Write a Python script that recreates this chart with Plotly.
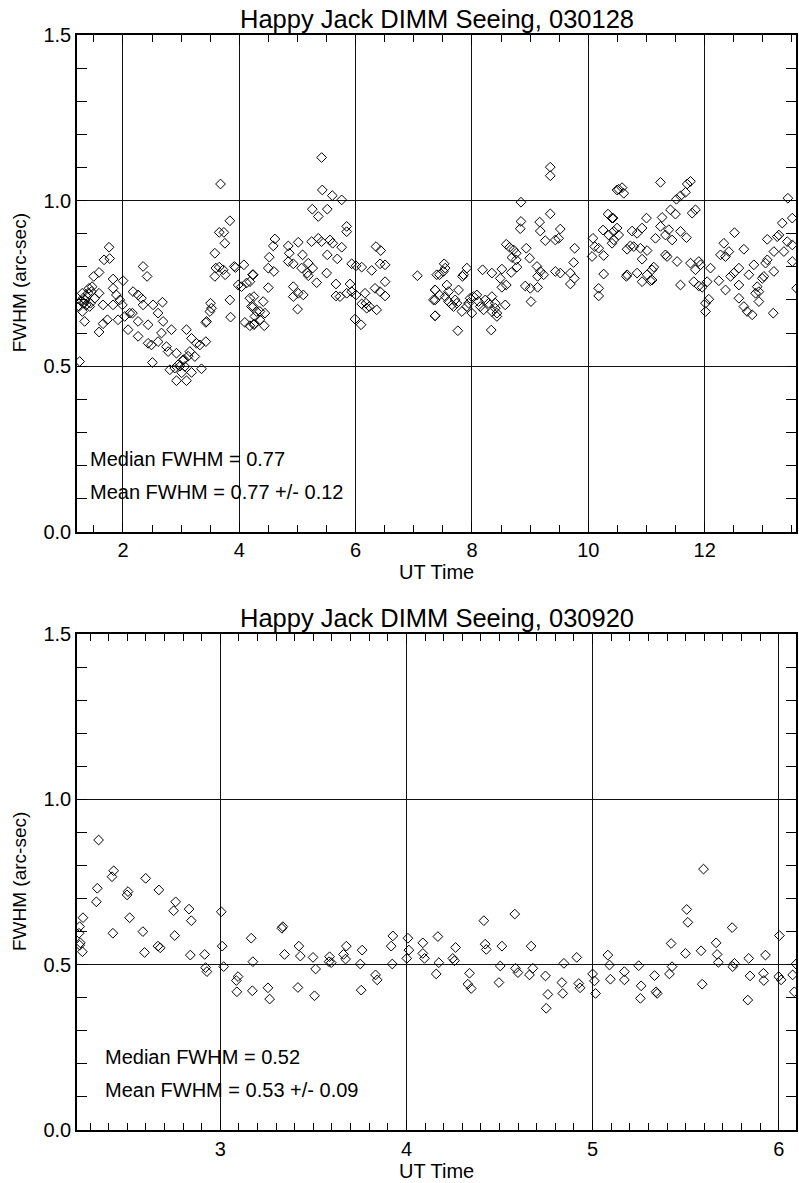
import plotly.graph_objects as go

# ---------------- data ----------------
ut_030128 = [
    1.256,1.285,1.245,1.314,1.342,1.302,1.371,1.400,1.417,1.457,
    1.428,1.497,1.515,1.589,1.589,1.589,1.658,1.675,1.658,1.732,
    1.761,1.772,1.830,1.830,1.830,1.887,1.916,1.945,1.990,2.002,
    2.030,2.088,2.117,2.174,2.163,2.260,2.318,2.260,2.260,2.346,
    2.415,2.346,2.432,2.432,2.490,2.518,2.507,2.604,2.604,2.662,
    2.679,2.690,2.748,2.777,2.834,2.806,2.891,2.920,2.920,2.949,
    3.035,3.064,3.092,3.092,3.150,3.179,3.179,3.236,3.265,3.322,
    3.350,3.425,3.425,3.437,3.494,3.522,3.505,3.580,3.597,3.580,
    3.655,3.655,3.677,3.735,3.752,3.723,3.758,3.838,3.838,3.850,
    3.913,3.936,3.981,4.039,4.079,4.125,4.182,4.228,4.096,4.182,
    4.257,4.240,4.297,
    1.350,1.380,1.440,1.470,1.330,1.300,2.980,3.010,3.050,3.120,
    5.415,5.427,5.599,5.760,5.255,5.358,5.513,5.846,5.846,4.612,
    4.584,4.842,5.014,4.859,4.515,4.240,4.182,4.498,4.595,4.842,
    4.928,5.088,5.243,5.358,5.415,5.559,5.605,5.760,5.513,5.685,
    5.186,5.071,5.261,5.169,5.186,5.502,5.330,4.928,5.014,5.100,
    4.928,4.498,4.251,4.411,4.210,4.354,4.268,4.440,4.354,4.251,
    4.429,5.002,5.662,5.662,5.731,5.846,5.903,5.932,6.006,6.104,
    5.932,6.006,5.989,6.093,6.104,6.161,6.190,6.236,6.178,6.276,
    6.333,6.362,6.350,6.431,6.420,6.506,6.506,6.420,6.506,7.062,
    7.395,7.366,7.338,7.366,
    9.346,9.346,8.842,9.346,9.163,8.842,8.830,9.174,9.518,9.260,
    9.433,9.490,9.765,8.589,8.646,8.715,8.761,8.933,8.991,8.687,
    8.761,8.773,8.675,8.514,8.342,8.182,8.486,8.514,8.589,8.572,
    8.400,8.428,8.342,8.331,9.117,9.174,9.232,9.128,9.433,9.518,
    9.748,9.691,9.760,9.691,8.916,9.002,9.128,9.014,10.080,10.110,
    10.178,10.064,10.253,10.350,10.264,10.264,10.178,10.178,10.339,10.408,
    10.494,7.522,7.539,7.510,7.442,7.855,7.837,7.912,7.367,7.442,
    7.367,7.568,7.597,7.769,7.367,7.539,7.597,7.654,7.683,7.711,
    7.740,7.826,7.912,7.998,8.027,8.084,8.113,8.142,8.199,8.228,
    8.285,8.342,8.400,8.428,7.757,7.941,7.969,
    13.431,11.240,10.522,10.580,10.609,11.756,11.699,11.670,11.584,11.515,
    10.425,11.412,11.498,11.785,11.842,11.000,11.268,10.494,10.436,10.522,
    10.436,10.408,10.752,10.838,10.924,11.240,11.383,11.584,11.687,11.154,
    11.326,11.440,10.723,10.666,10.781,10.895,11.010,10.924,11.354,11.326,
    11.526,11.756,11.899,11.928,11.842,11.125,11.096,10.666,10.654,10.838,
    11.010,11.067,10.924,11.096,11.584,11.813,11.899,11.957,12.043,12.100,
    12.014,12.014,12.071,12.330,12.513,12.272,12.358,12.416,12.674,12.244,
    12.358,12.445,12.502,12.588,12.588,12.760,12.846,12.903,12.932,12.875,
    12.990,13.018,12.932,12.588,12.674,12.731,12.817,13.076,13.248,13.276,
    13.334,13.506,13.420,13.506,13.362,13.506,13.190,13.076,13.047,13.190,
    13.179,13.580,
]
fwhm_030128 = [
    0.514,0.695,0.680,0.705,0.635,0.665,0.685,0.720,0.735,0.725,
    0.680,0.771,0.705,0.783,0.720,0.603,0.685,0.821,0.628,0.640,
    0.859,0.825,0.763,0.735,0.685,0.715,0.640,0.700,0.685,0.758,
    0.650,0.610,0.660,0.725,0.660,0.715,0.705,0.635,0.590,0.801,
    0.771,0.685,0.625,0.569,0.564,0.685,0.511,0.660,0.574,0.600,
    0.693,0.635,0.559,0.544,0.610,0.489,0.494,0.539,0.456,0.504,
    0.519,0.499,0.610,0.456,0.544,0.584,0.481,0.529,0.569,0.564,
    0.492,0.574,0.632,0.635,0.665,0.675,0.690,0.841,0.796,0.771,
    0.904,0.799,1.050,0.904,0.871,0.791,0.776,0.939,0.700,0.648,
    0.801,0.798,0.745,0.740,0.806,0.751,0.705,0.776,0.632,0.622,
    0.628,0.680,0.665,
    0.700,0.710,0.690,0.740,0.690,0.720,0.500,0.480,0.520,0.530,
    1.130,1.032,1.015,1.002,0.974,0.952,0.974,0.922,0.906,0.884,
    0.863,0.863,0.874,0.841,0.829,0.776,0.755,0.796,0.786,0.816,
    0.809,0.836,0.876,0.886,0.876,0.881,0.871,0.859,0.836,0.824,
    0.811,0.796,0.796,0.781,0.773,0.781,0.752,0.740,0.720,0.715,
    0.710,0.737,0.710,0.695,0.680,0.665,0.650,0.660,0.640,0.625,
    0.622,0.672,0.748,0.712,0.710,0.720,0.748,0.809,0.803,0.799,
    0.725,0.715,0.642,0.625,0.688,0.720,0.675,0.680,0.690,0.789,
    0.735,0.670,0.861,0.849,0.809,0.806,0.755,0.725,0.712,0.773,
    0.776,0.730,0.700,0.652,
    1.101,1.075,0.995,0.960,0.935,0.937,0.915,0.908,0.914,0.879,
    0.881,0.886,0.856,0.868,0.859,0.851,0.841,0.856,0.826,0.828,
    0.821,0.799,0.783,0.793,0.781,0.791,0.765,0.738,0.745,0.685,
    0.690,0.660,0.710,0.609,0.801,0.786,0.776,0.771,0.786,0.781,
    0.813,0.781,0.765,0.748,0.742,0.735,0.738,0.695,0.886,0.861,
    0.856,0.831,0.911,0.896,0.834,0.778,0.735,0.712,0.959,0.947,
    1.032,0.809,0.796,0.786,0.776,0.776,0.771,0.796,0.730,0.715,
    0.700,0.745,0.725,0.730,0.652,0.710,0.695,0.685,0.680,0.700,
    0.690,0.665,0.680,0.660,0.710,0.715,0.695,0.680,0.670,0.700,
    0.690,0.665,0.675,0.650,0.607,0.690,0.705,
    1.007,1.055,1.034,1.039,1.022,1.058,1.050,1.025,1.014,1.004,
    0.947,0.972,0.959,0.962,0.972,0.947,0.949,0.917,0.907,0.896,
    0.881,0.871,0.908,0.901,0.917,0.922,0.912,0.907,0.888,0.886,
    0.896,0.881,0.863,0.853,0.861,0.856,0.849,0.823,0.831,0.836,
    0.816,0.811,0.816,0.806,0.791,0.799,0.791,0.776,0.771,0.781,
    0.776,0.758,0.755,0.760,0.745,0.755,0.742,0.738,0.755,0.796,
    0.690,0.665,0.702,0.871,0.903,0.836,0.831,0.846,0.853,0.758,
    0.730,0.771,0.781,0.796,0.745,0.776,0.806,0.740,0.725,0.720,
    0.765,0.771,0.695,0.705,0.680,0.665,0.655,0.883,0.891,0.896,
    0.932,0.947,0.876,0.866,0.846,0.816,0.786,0.821,0.811,0.846,
    0.660,0.735,
]

ut_030920 = [
    2.346,2.427,2.418,2.339,2.334,2.599,2.504,2.499,2.670,2.262,
    2.244,2.241,2.248,2.244,2.259,2.423,2.513,2.584,2.593,2.665,
    2.677,2.760,2.749,2.832,2.844,2.755,2.839,2.916,2.921,2.928,
    3.005,3.010,3.018,3.166,3.175,3.095,3.086,3.089,3.172,
    3.336,3.331,3.345,3.422,3.430,3.498,3.512,3.256,3.265,3.417,
    3.506,3.587,3.584,3.596,3.677,3.662,3.673,3.762,3.752,3.757,
    3.834,3.843,3.927,3.918,3.924,4.008,4.013,4.002,4.088,4.088,
    4.097,4.169,4.160,
    4.174,4.264,4.249,4.258,4.339,4.330,4.348,4.416,4.423,4.429,
    4.513,4.504,4.497,4.582,4.586,4.599,4.670,4.679,4.661,4.747,
    4.760,4.751,4.835,4.840,4.846,4.915,4.926,4.933,5.000,5.010,
    5.016,5.082,5.091,5.096,
    5.171,5.171,5.248,5.261,5.257,5.333,5.341,5.347,5.422,5.427,
    5.413,5.506,5.512,5.499,5.583,5.589,5.596,5.664,5.669,5.676,
    5.750,5.762,5.753,5.839,5.846,5.834,5.918,5.920,5.929,6.004,
    6.000,6.013,6.075,6.084,6.093,
]
fwhm_030920 = [
    0.877,0.784,0.766,0.731,0.690,0.761,0.721,0.711,0.726,0.642,
    0.615,0.595,0.566,0.559,0.539,0.595,0.642,0.600,0.537,0.556,
    0.551,0.690,0.663,0.668,0.633,0.588,0.529,0.531,0.491,0.479,
    0.660,0.556,0.494,0.580,0.509,0.464,0.452,0.418,0.421,
    0.615,0.610,0.531,0.556,0.526,0.522,0.487,0.430,0.396,0.431,
    0.406,0.524,0.509,0.506,0.556,0.531,0.517,0.544,0.502,0.423,
    0.469,0.454,0.587,0.556,0.502,0.580,0.544,0.519,0.566,0.534,
    0.519,0.585,0.472,
    0.506,0.552,0.519,0.512,0.474,0.441,0.428,0.633,0.562,0.546,
    0.556,0.496,0.446,0.653,0.489,0.476,0.556,0.489,0.469,0.466,
    0.410,0.368,0.446,0.413,0.504,0.522,0.443,0.430,0.472,0.451,
    0.413,0.529,0.499,0.456,
    0.479,0.454,0.497,0.436,0.398,0.467,0.418,0.413,0.564,0.494,
    0.472,0.667,0.628,0.534,0.542,0.441,0.789,0.566,0.531,0.507,
    0.612,0.504,0.494,0.519,0.466,0.393,0.474,0.452,0.529,0.588,
    0.464,0.454,0.469,0.418,0.502,
]

titles = ["Happy Jack DIMM Seeing, 030128", "Happy Jack DIMM Seeing, 030920"]
stats_030128 = ["Median FWHM = 0.77", "Mean FWHM = 0.77 +/- 0.12"]
stats_030920 = ["Median FWHM = 0.52", "Mean FWHM = 0.53 +/- 0.09"]
y_ticks = [0.0, 0.5, 1.0, 1.5]

# ---------------- figure ----------------
FONT = "Liberation Sans, Arial, Helvetica, sans-serif"
W, H = 799, 1183
ML, MR, MT, MB = 77, 3, 35, 53
PH = H - MT - MB
PW = W - ML - MR


def py2paper(py):
    """page pixel row -> paper fraction"""
    return (H - MB - py) / PH


def px2paper(px):
    """page pixel column -> paper fraction"""
    return (px - ML) / PW


marker = dict(symbol="diamond-open", size=7.5, color="black", line=dict(width=1, color="black"))

fig = go.Figure()
fig.add_trace(go.Scatter(x=ut_030128, y=fwhm_030128, mode="markers", marker=marker,
                         xaxis="x", yaxis="y", showlegend=False, hoverinfo="skip"))
fig.add_trace(go.Scatter(x=ut_030920, y=fwhm_030920, mode="markers", marker=marker,
                         xaxis="x2", yaxis="y2", showlegend=False, hoverinfo="skip"))

common = dict(showline=True, linecolor="black", linewidth=1.5, mirror="ticks",
              ticks="inside", ticklen=10, tickcolor="black", tickwidth=1,
              showgrid=True, gridcolor="#111111", gridwidth=1.3, zeroline=False,
              tickfont=dict(family=FONT, size=20, color="black"), automargin=False)

top_dom = [py2paper(531.7), 1.0]
bot_dom = [0.0, py2paper(634)]

fig.update_layout(
    width=W, height=H, margin=dict(l=ML, r=MR, t=MT, b=MB, autoexpand=False),
    paper_bgcolor="white", plot_bgcolor="white",
    xaxis=dict(common, domain=[0, 1], anchor="y", range=[1.21, 13.57], dtick=2, tick0=0,
               minor=dict(ticks="inside", ticklen=7, tickcolor="black", dtick=0.5, tick0=0, showgrid=False)),
    yaxis=dict(common, domain=top_dom, anchor="x", range=[0, 1.5], tickvals=y_ticks, tickformat=".1f",
               minor=dict(ticks="inside", ticklen=10, tickcolor="black", dtick=0.1, tick0=0, showgrid=False)),
    xaxis2=dict(common, domain=[0, 1], anchor="y2", range=[2.23, 6.093], dtick=1, tick0=0,
                minor=dict(ticks="inside", ticklen=7, tickcolor="black", dtick=0.1, tick0=0, showgrid=False)),
    yaxis2=dict(common, domain=bot_dom, anchor="x2", range=[0, 1.5], tickvals=y_ticks, tickformat=".1f",
                minor=dict(ticks="inside", ticklen=10, tickcolor="black", dtick=0.1, tick0=0, showgrid=False)),
)

ann = []
txt = dict(family=FONT, size=20, color="black")
# titles
ann.append(dict(text=titles[0], xref="paper", yref="paper", x=px2paper(436.5), y=py2paper(19),
                xanchor="center", yanchor="middle", showarrow=False,
                font=dict(family=FONT, size=25.5, color="black")))
ann.append(dict(text=titles[1], xref="paper", yref="paper", x=px2paper(436.5), y=py2paper(618),
                xanchor="center", yanchor="middle", showarrow=False,
                font=dict(family=FONT, size=25.5, color="black")))
# x-axis titles
for py in (572, 1171):
    ann.append(dict(text="UT Time", xref="paper", yref="paper", x=px2paper(436.5), y=py2paper(py),
                    xanchor="center", yanchor="middle", showarrow=False, font=txt))
# y-axis titles
for py in ((35 + 531.7) / 2, (634 + 1130) / 2):
    ann.append(dict(text="FWHM (arc-sec)", xref="paper", yref="paper", x=px2paper(19), y=py2paper(py),
                    xanchor="center", yanchor="middle", textangle=-90, showarrow=False,
                    font=dict(family=FONT, size=19, color="black")))
# statistics
for i, s in enumerate(stats_030128):
    ann.append(dict(text=s, xref="x", yref="y", x=1.41, y=[0.22, 0.12][i],
                    xanchor="left", yanchor="middle", showarrow=False, font=txt, borderpad=0))
for i, s in enumerate(stats_030920):
    ann.append(dict(text=s, xref="x2", yref="y2", x=2.375, y=[0.22, 0.12][i],
                    xanchor="left", yanchor="middle", showarrow=False, font=txt, borderpad=0))

fig.update_layout(annotations=ann)
# remove the browser's default 8px body margin so the figure sits at the page origin
fig.write_html("out.html", config={"displayModeBar": False},
               post_script="document.body.style.margin='0px';")
